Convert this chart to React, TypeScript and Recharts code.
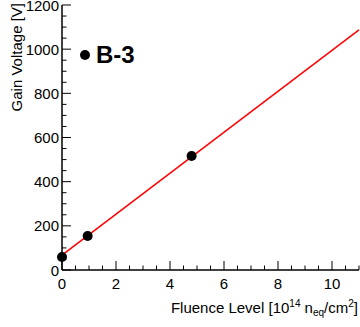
import React from 'react';
import { ComposedChart, Scatter, XAxis, YAxis } from 'recharts';

// measured points (fluence in 1e14 neq/cm2, gain voltage in V)
const fluence = [0, 0.95, 4.8];
const voltage = [59, 154, 516];

// linear fit drawn across the full x range
const fitX = [0, 11];
const fitY = [67, 1087];

const xMajor = [0, 2, 4, 6, 8, 10];
const yMajor = [0, 200, 400, 600, 800, 1000, 1200];
const xTicks = Array.from({ length: 23 }, (_, i) => i * 0.5);
const yTicks = Array.from({ length: 25 }, (_, i) => i * 50);

const points = fluence.map((f, i) => ({ x: f, y: voltage[i] }));
const fit = fitX.map((f, i) => ({ x: f, y: fitY[i] }));

const FONT = '"Liberation Sans", Arial, sans-serif';

const BottomTick = (props: any) => {
  const { x, y, payload } = props;
  const major = xMajor.includes(payload.value);
  return (
    <g>
      <line x1={x} x2={x} y1={y} y2={y - (major ? 9 : 4.5)} stroke="#000" />
      {major && (
        <text x={x} y={y + 19} textAnchor="middle" fontSize={15} fontFamily={FONT} fill="#000">
          {payload.value}
        </text>
      )}
    </g>
  );
};

const TopTick = (props: any) => {
  const { x, y, payload } = props;
  const major = xMajor.includes(payload.value);
  return <line x1={x} x2={x} y1={y} y2={y + (major ? 9 : 4.5)} stroke="#000" />;
};

const LeftTick = (props: any) => {
  const { x, y, payload } = props;
  const major = yMajor.includes(payload.value);
  return (
    <g>
      <line x1={x} x2={x + (major ? 9 : 4.5)} y1={y} y2={y} stroke="#000" />
      {major && (
        <text x={x - 3} y={y + 5.5} textAnchor="end" fontSize={15} fontFamily={FONT} fill="#000">
          {payload.value}
        </text>
      )}
    </g>
  );
};

const RightTick = (props: any) => {
  const { x, y, payload } = props;
  const major = yMajor.includes(payload.value);
  return <line x1={x} x2={x - (major ? 9 : 4.5)} y1={y} y2={y} stroke="#000" />;
};

const Dot = (props: any) => <circle cx={props.cx} cy={props.cy} r={5} fill="#000" />;
const NoDot = () => <g />;

export default function App() {
  return (
    <div style={{ position: 'relative', width: 360, height: 327, background: '#fff' }}>
      <style>{`body { margin: 0; }`}</style>
      <ComposedChart width={360} height={327} margin={{ top: 5, right: 1, bottom: 0, left: 0 }}>
        <XAxis
          xAxisId="b"
          type="number"
          dataKey="x"
          domain={[0, 11]}
          ticks={xTicks}
          interval={0}
          height={57}
          tickSize={0}
          tickMargin={0}
          tickLine={false}
          tick={<BottomTick />}
          axisLine={{ stroke: '#000', strokeWidth: 1.5 }}
          label={{
            content: () => (
              <text x={358} y={312.5} textAnchor="end" fontSize={15} fontFamily={FONT} fill="#000">
                Fluence Level [10
                <tspan fontSize={10} dy={-6}>14</tspan>
                <tspan dy={6}> n</tspan>
                <tspan fontSize={10} dy={3}>eq</tspan>
                <tspan dy={-3}>/cm</tspan>
                <tspan fontSize={10} dy={-6}>2</tspan>
                <tspan dy={6}>]</tspan>
              </text>
            ),
          }}
        />
        <XAxis
          xAxisId="t"
          orientation="top"
          type="number"
          dataKey="x"
          domain={[0, 11]}
          ticks={xTicks}
          interval={0}
          height={0}
          tickSize={0}
          tickMargin={0}
          tickLine={false}
          tick={<TopTick />}
          axisLine={{ stroke: '#000', strokeWidth: 1.5 }}
        />
        <YAxis
          yAxisId="l"
          type="number"
          domain={[0, 1200]}
          ticks={yTicks}
          interval={0}
          width={62}
          tickSize={0}
          tickMargin={0}
          tickLine={false}
          tick={<LeftTick />}
          axisLine={{ stroke: '#000', strokeWidth: 1.5 }}
          label={{
            content: () => (
              <text
                x={22}
                y={3}
                transform="rotate(-90, 22, 3)"
                textAnchor="end"
                fontSize={15}
                fontFamily={FONT}
                fill="#000"
              >
                Gain Voltage [V]
              </text>
            ),
          }}
        />
        <YAxis
          yAxisId="r"
          orientation="right"
          type="number"
          domain={[0, 1200]}
          ticks={yTicks}
          interval={0}
          width={0}
          tickSize={0}
          tickMargin={0}
          tickLine={false}
          tick={<RightTick />}
          axisLine={{ stroke: '#000', strokeWidth: 1.5 }}
        />
        <Scatter
          xAxisId="b"
          yAxisId="l"
          data={fit}
          dataKey="y"
          line={{ stroke: '#ff0000', strokeWidth: 1.5 }}
          shape={<NoDot />}
          isAnimationActive={false}
        />
        <Scatter
          xAxisId="b"
          yAxisId="l"
          data={points}
          dataKey="y"
          fill="#000"
          shape={<Dot />}
          isAnimationActive={false}
        />
      </ComposedChart>
      <div style={{ position: 'absolute', left: 80, top: 40, display: 'flex', alignItems: 'center', fontFamily: FONT }}>
        <span style={{ width: 10, height: 10, borderRadius: 5, background: '#000', display: 'inline-block', marginRight: 6 }} />
        <span style={{ fontSize: 24, fontWeight: 'bold', color: '#000', lineHeight: '30px' }}>B-3</span>
      </div>
    </div>
  );
}
